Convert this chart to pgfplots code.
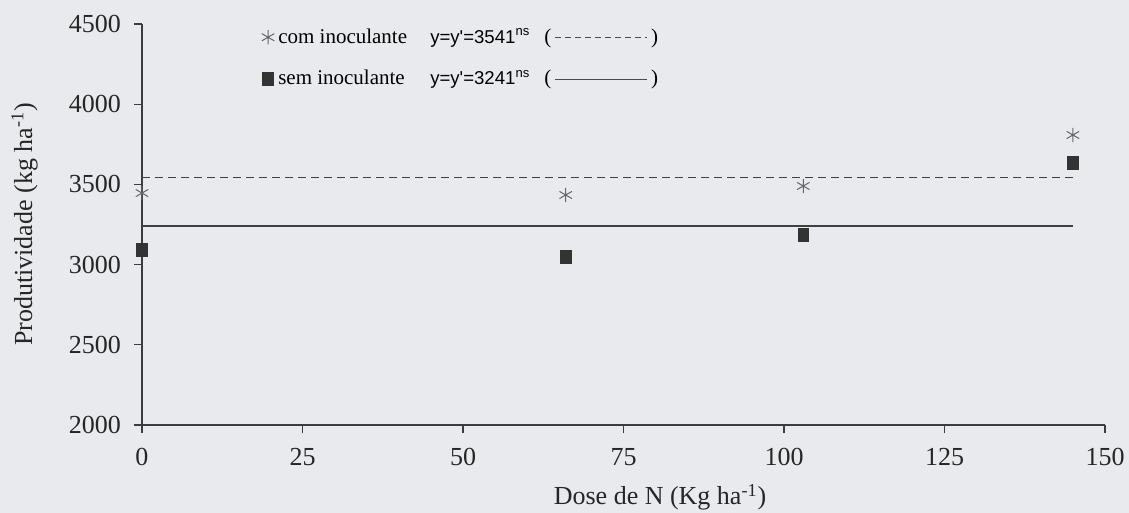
\documentclass[border=0pt]{standalone}
\usepackage{pgfplots}
\pgfplotsset{compat=1.18}
\usepackage{fontspec}
\setmainfont{Liberation Serif}
\newfontfamily\arial{Liberation Sans}
\definecolor{bgc}{RGB}{232,234,237}
\definecolor{axc}{RGB}{60,60,60}
\begin{document}
\begin{tikzpicture}
\fill[bgc] (-71pt,-44pt) rectangle (493.5pt,212.5pt);
\begin{axis}[
  at={(0,0)}, anchor=south west,
  scale only axis, width=481.5pt, height=200.5pt,
  xmin=0, xmax=150, ymin=2000, ymax=4500,
  xtick={0,25,...,150}, ytick={2000,2500,...,4500},
  axis x line*=bottom, axis y line*=left,
  axis line style={axc, line width=0.6pt},
  tick style={axc, line width=0.6pt},
  tick align=outside, major tick length=4pt,
  /pgf/number format/assume math mode=true,
  /pgf/number format/1000 sep={},
  ticklabel style={font=\fontsize{13}{15}\selectfont, text=black!85},
  yticklabel style={xshift=-3pt},
  xticklabel style={yshift=-4pt},
  xlabel={Dose de N (Kg ha\textsuperscript{-1})},
  ylabel={Produtividade (kg ha\textsuperscript{-1})},
  label style={font=\fontsize{13}{15}\selectfont, text=black!85},
  xlabel style={at={(axis description cs:0.538,-0.18)}, anchor=center},
  ylabel style={at={(axis description cs:-0.122,0.5)}, anchor=center},
  clip=false,
  legend style={at={(axis description cs:0.124,1.0)}, anchor=north west,
    draw=none, fill=none, font=\fontsize{10.5}{12}\selectfont,
    row sep=8pt, inner sep=0pt},
  legend cell align=left,
]
\addplot[only marks, mark=asterisk, mark size=3.6pt, color=black!60, line width=0.5pt]
  coordinates {(0,3446) (66,3434) (103,3490) (145,3808)};
\addlegendentry{\makebox[76pt][l]{com inoculante}\makebox[57pt][l]{\fontsize{9.3}{10}\arial y=y'=3541\textsuperscript{ns}}(\,\tikz[baseline=-0.6ex]\draw[dashed, dash pattern=on 3pt off 2pt, black!70] (0,0)--(46pt,0);\,)}
\addplot[only marks, mark=square*, mark size=3.3pt, color=black!80, mark options={xscale=0.8}]
  coordinates {(0,3091) (66,3047) (103,3185) (145,3633)};
\addlegendentry{\makebox[76pt][l]{sem inoculante}\makebox[57pt][l]{\fontsize{9.3}{10}\arial y=y'=3241\textsuperscript{ns}}(\,\tikz[baseline=-0.6ex]\draw[black!70] (0,0)--(46pt,0);\,)}
\addplot[black!75, dashed, dash pattern=on 4pt off 2.5pt, line width=0.6pt, forget plot]
  coordinates {(0,3541) (145,3541)};
\addplot[black!75, line width=0.6pt, forget plot]
  coordinates {(0,3241) (145,3241)};
\end{axis}
\pgfresetboundingbox
\useasboundingbox (-71pt,-44pt) rectangle (493.5pt,212.5pt);
\end{tikzpicture}
\end{document}
